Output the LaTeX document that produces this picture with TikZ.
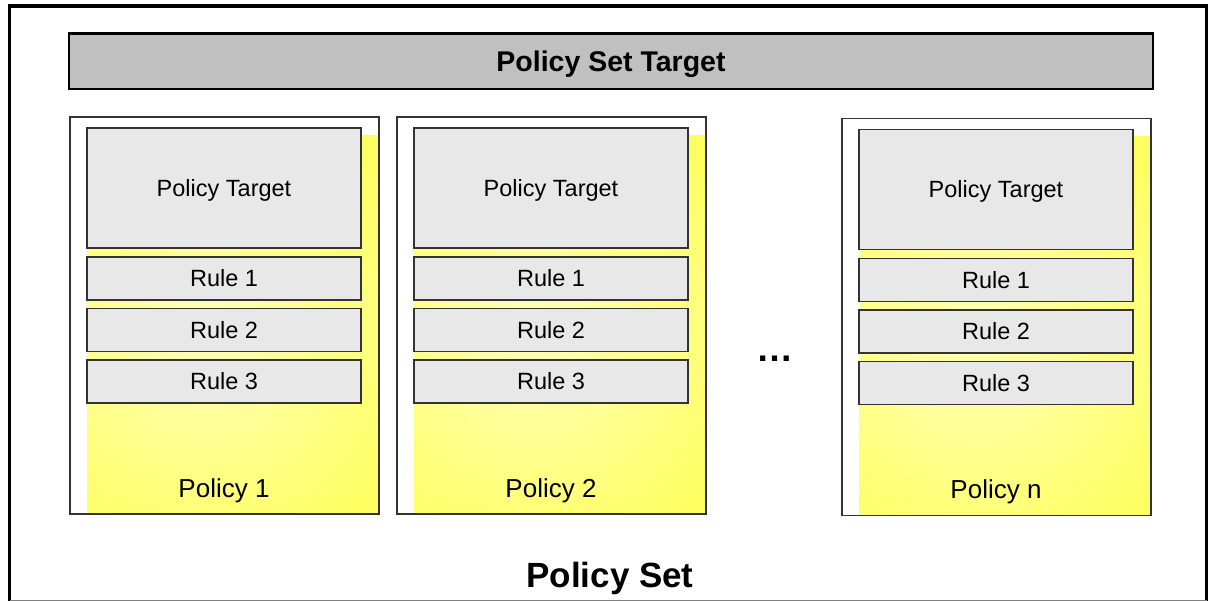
\documentclass[tikz,border=0pt]{standalone}
\usepackage{fontspec}
\setmainfont{Liberation Sans}
\usetikzlibrary{calc}
\definecolor{barfill}{HTML}{C0C0C0}
\definecolor{boxfill}{HTML}{E8E8E8}
\definecolor{ystrong}{HTML}{FFFF62}
\definecolor{ylight}{HTML}{FFFFB0}
\definecolor{edgecol}{HTML}{333333}
\pgfdeclareradialshading{yshade}{\pgfpointorigin}{color(0bp)=(ylight); color(3bp)=(ylight); color(25bp)=(ystrong); color(50bp)=(ystrong)}
\newcommand\polgroup[4]{%
  \node[polbox] (#1) at (#2,#3) {};
  \begin{scope}
    \clip ($(#1.north west)+(17,18)$) rectangle (#1.south east);
    \fill[ystrong] ($(#1.north west)+(17,18)$) rectangle (#1.south east);
    \shade[shading=yshade] ($(#1.north west)+(135,215)$) circle (235);
  \end{scope}
  \draw[edgecol, line width=1.2pt] (#1.north west) rectangle (#1.south east);
  \node[tgtbox] (#1t) at ($(#1.north west)+(17,11)$) {Policy Target};
  \node[rulebox] (#1r1) at ($(#1.north west)+(17,140)$) {Rule 1};
  \node[rulebox] (#1r2) at ($(#1.north west)+(17,191.5)$) {Rule 2};
  \node[rulebox] (#1r3) at ($(#1.north west)+(17,243)$) {Rule 3};
  \node[pollabel] (#1l) at ($(#1.north west)+(154,380.5)$) {#4};
}
\begin{document}
\begin{tikzpicture}[x=1pt,y=-1pt,
  every node/.style={outer sep=0pt, inner sep=0pt},
  barbox/.style={draw=black, line width=2.5pt, fill=barfill, anchor=north west,
    minimum width=1084pt, minimum height=55.5pt, text height=20pt, text depth=0pt,
    font=\fontsize{28.5}{32}\selectfont\bfseries},
  polbox/.style={fill=white, anchor=north west, minimum width=309pt, minimum height=397pt},
  tgtbox/.style={draw=edgecol, line width=1.3pt, fill=boxfill, anchor=north west,
    minimum width=274pt, minimum height=120pt, text height=16.5pt, text depth=0pt,
    font=\fontsize{23.5}{27}\selectfont},
  rulebox/.style={draw=edgecol, line width=1.3pt, fill=boxfill, anchor=north west,
    minimum width=274pt, minimum height=43pt, text height=16.5pt, text depth=0pt,
    font=\fontsize{23.5}{27}\selectfont},
  pollabel/.style={anchor=base, font=\fontsize{26}{30}\selectfont},
  titlelabel/.style={anchor=base, font=\fontsize{35}{40}\selectfont\bfseries}
]
\useasboundingbox (0,0) rectangle (1208,601);
\fill[white] (0,0) rectangle (1208,601);
% outer frame
\draw[black, line width=3.5pt] (9.5,602) -- (9.5,6) -- (1206.5,6) -- (1206.5,602);
\draw[gray, line width=1.5pt] (9.5,600.4) -- (1206.5,600.4);
% policy set target bar
\node[barbox] (pst) at (69,33.5) {Policy Set Target};
% policies
\polgroup{pa}{70}{117}{Policy 1}
\polgroup{pb}{397}{117}{Policy 2}
\polgroup{pn}{842}{118.5}{Policy n}
% ellipsis
\node[anchor=base, font=\fontsize{37}{40}\selectfont\bfseries] (dots) at (775,362) {…};
% policy set label
\node[titlelabel] (ps) at (610,587) {Policy Set};
\end{tikzpicture}
\end{document}
